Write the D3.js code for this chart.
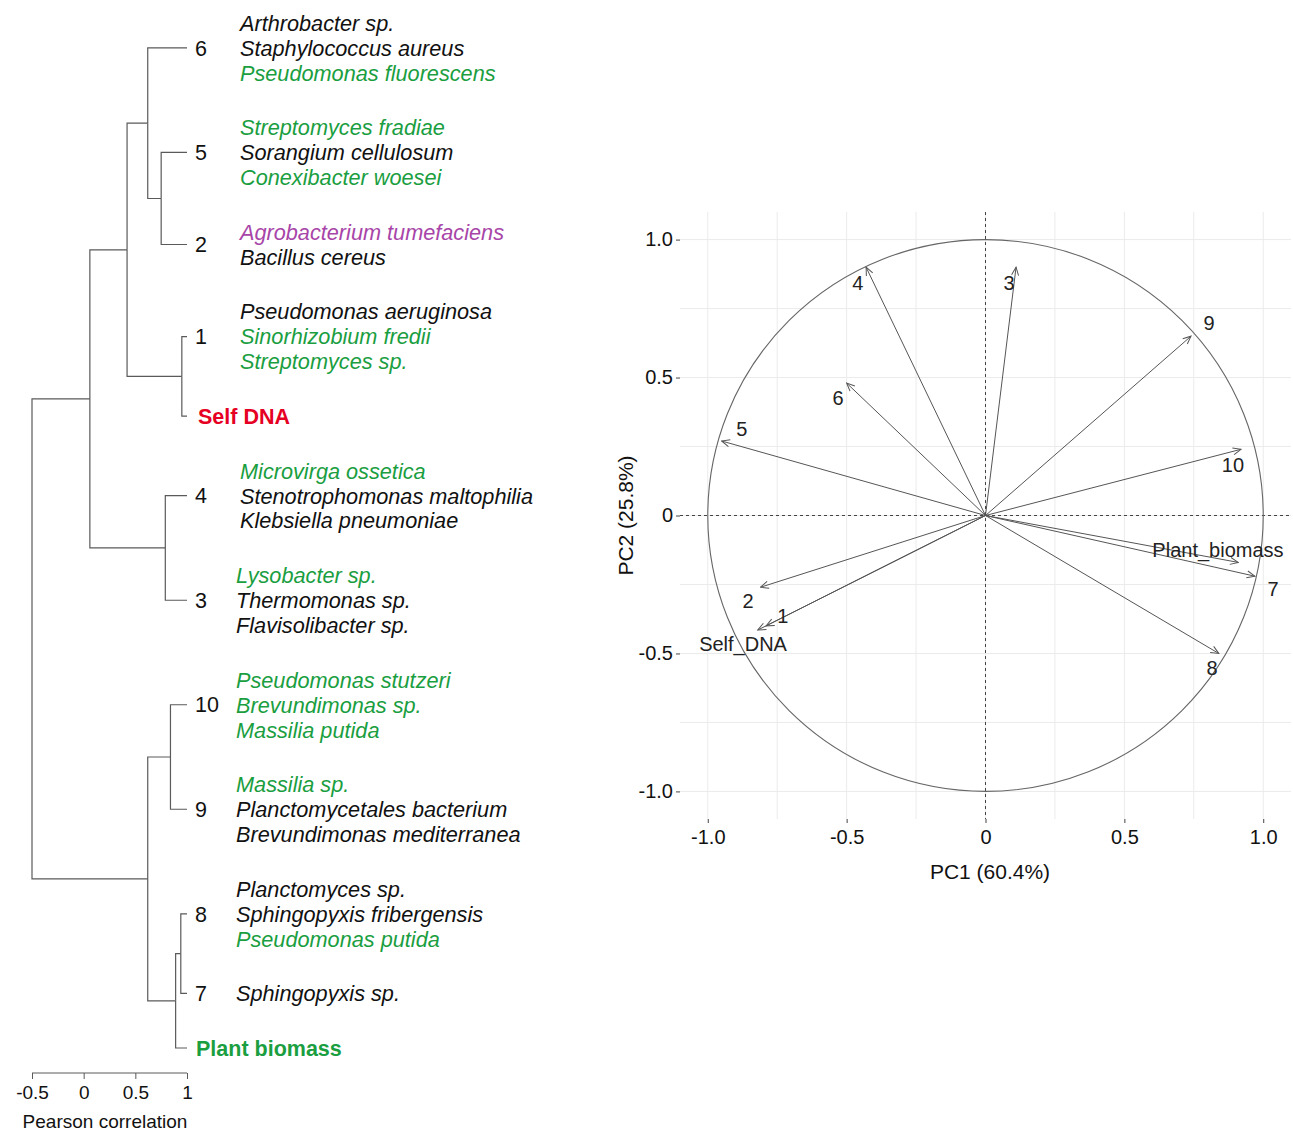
<!DOCTYPE html>
<html>
<head>
<meta charset="utf-8">
<script src="https://cdn.jsdelivr.net/npm/d3@7"></script>
<style>
  body { margin: 0; background: #fff; }
  text { font-family: Arial, "Liberation Sans", sans-serif; }
</style>
</head>
<body>
<div id="chart"></div>
<script>
// ---------- Data ----------

// Dendrogram leaves, top to bottom
var leafNames = ["6", "5", "2", "1", "Self DNA", "4", "3", "10", "9", "8", "7", "Plant biomass"];

// Species listed next to each leaf
var leafSpecies = [
    ["Arthrobacter sp.", "Staphylococcus aureus", "Pseudomonas fluorescens"],
    ["Streptomyces fradiae", "Sorangium cellulosum", "Conexibacter woesei"],
    ["Agrobacterium tumefaciens", "Bacillus cereus"],
    ["Pseudomonas aeruginosa", "Sinorhizobium fredii", "Streptomyces sp."],
    [],
    ["Microvirga ossetica", "Stenotrophomonas maltophilia", "Klebsiella pneumoniae"],
    ["Lysobacter sp.", "Thermomonas sp.", "Flavisolibacter sp."],
    ["Pseudomonas stutzeri", "Brevundimonas sp.", "Massilia putida"],
    ["Massilia sp.", "Planctomycetales bacterium", "Brevundimonas mediterranea"],
    ["Planctomyces sp.", "Sphingopyxis fribergensis", "Pseudomonas putida"],
    ["Sphingopyxis sp."],
    []
];

// Group of each species (k = other, g = green, p = purple)
var leafSpeciesGroup = [
    ["k", "k", "g"],
    ["g", "k", "g"],
    ["p", "k"],
    ["k", "g", "g"],
    [],
    ["g", "k", "k"],
    ["g", "k", "k"],
    ["g", "g", "g"],
    ["g", "k", "k"],
    ["k", "k", "g"],
    ["k"],
    []
];

// Merge table (child A, child B, Pearson correlation); rows are named m0, m1, ...
var merges = [
    ["5", "2", 0.75],
    ["6", "m0", 0.62],
    ["1", "Self DNA", 0.95],
    ["m1", "m2", 0.42],
    ["4", "3", 0.79],
    ["m3", "m4", 0.06],
    ["10", "9", 0.84],
    ["8", "7", 0.94],
    ["m7", "Plant biomass", 0.89],
    ["m6", "m8", 0.62],
    ["m5", "m9", -0.5]
];

var denTicks = [-0.5, 0, 0.5, 1];

// PCA variable correlations
var pcVars = ["1", "2", "3", "4", "5", "6", "7", "8", "9", "10", "Self_DNA", "Plant_biomass"];
var pc1 = [-0.79, -0.81, 0.11, -0.43, -0.95, -0.50, 0.97, 0.84, 0.74, 0.92, -0.82, 0.91];
var pc2 = [-0.40, -0.26, 0.90, 0.90, 0.27, 0.48, -0.22, -0.50, 0.65, 0.24, -0.415, -0.17];
// Repelled label locations (same units)
var pcLabelX = [-0.73, -0.855, 0.085, -0.46, -0.877, -0.531, 1.035, 0.816, 0.805, 0.891, -0.873, 0.837];
var pcLabelY = [-0.364, -0.31, 0.843, 0.843, 0.314, 0.426, -0.266, -0.553, 0.698, 0.183, -0.466, -0.125];

var pcTicks = [-1, -0.5, 0, 0.5, 1];
var pcGrid = [-1, -0.75, -0.5, -0.25, 0, 0.25, 0.5, 0.75, 1];

// ---------- Setup ----------
var width = 1293, height = 1131;

var svg = d3.select("#chart")
            .append("svg")
            .attr("width", width)
            .attr("height", height)
            .style("display", "block");

svg.append("rect").attr("width", width).attr("height", height).attr("fill", "#fff");

var groupColor = {k: "#111111", g: "#1a9e3f", p: "#a845a8"};
var lineColor = "#5a5a5a";

// plain hyphen for negative numbers, as in the original figure
var hyphen = function(s) { return s.replace("\u2212", "-"); };

// ---------- Dendrogram ----------
var x_den = d3.scaleLinear().domain([-0.5, 1]).range([32, 187]);

// vertical slots: one per text line, with an extra gap between leaves
var gapSlots = 1.19;
var leafStart = [];
var slot = 0;
leafNames.forEach(function(name, i) {
    leafStart.push(slot);
    slot += Math.max(1, leafSpecies[i].length) + gapSlots;
});
var lastSlot = slot - 1 - gapSlots;
var y_slot = d3.scaleLinear().domain([0, lastSlot]).range([23, 1048]);

function leafY(i) {
    var n = Math.max(1, leafSpecies[i].length);
    return y_slot(leafStart[i] + (n - 1) / 2);
}

// build hierarchy from the merge table
var nodes = {};
leafNames.forEach(function(name, i) { nodes[name] = {name: name, index: i, height: 1}; });
merges.forEach(function(m, i) {
    nodes["m" + i] = {name: "m" + i, height: m[2], children: [nodes[m[0]], nodes[m[1]]]};
});
var root = d3.hierarchy(nodes["m" + (merges.length - 1)]);

// positions: leaves from their label block, parents at the mid of their children
root.eachAfter(function(d) {
    d.px = x_den(d.data.height);
    if (d.children) {
        d.py = d3.mean(d.children, function(c) { return c.py; });
    } else {
        d.py = leafY(d.data.index);
    }
});

var den = svg.append("g")
             .attr("fill", "none")
             .attr("stroke", lineColor)
             .attr("stroke-width", 1.2);

den.selectAll("path")
   .data(root.descendants().filter(function(d) { return d.parent; }))
   .enter().append("path")
   .attr("d", function(d) {
       return "M" + d.px + "," + d.py + "H" + d.parent.px + "V" + d.parent.py;
   });

// leaf labels
var leafLabels = svg.append("g");
root.leaves().forEach(function(d) {
    var name = d.data.name;
    var t = leafLabels.append("text")
                      .attr("x", 195)
                      .attr("y", d.py)
                      .attr("dy", "0.36em")
                      .style("font-size", "21.5px")
                      .text(name);
    if (name == "Self DNA") {
        t.attr("x", 198).style("font-weight", "bold").attr("fill", "#e60023");
    } else if (name == "Plant biomass") {
        t.attr("x", 196).style("font-weight", "bold").attr("fill", "#1a9e3f");
    } else {
        t.attr("fill", "#111");
    }
});

// species names
leafNames.forEach(function(name, i) {
    leafSpecies[i].forEach(function(sp, k) {
        leafLabels.append("text")
                  .attr("x", i < 6 ? 240 : 236)
                  .attr("y", y_slot(leafStart[i] + k))
                  .attr("dy", "0.36em")
                  .style("font-size", "21.7px")
                  .style("font-style", "italic")
                  .attr("fill", groupColor[leafSpeciesGroup[i][k]])
                  .text(sp);
    });
});

// correlation axis
var denAxis = d3.axisBottom(x_den)
                .tickValues(denTicks)
                .tickSize(6)
                .tickFormat(function(d) { return hyphen(d3.format("")(d)); });

var denAxisG = svg.append("g")
                  .attr("transform", "translate(0,1073)")
                  .call(denAxis);
denAxisG.select(".domain").attr("stroke", lineColor).attr("d", "M" + x_den(-0.5) + ",0H" + x_den(1));
denAxisG.selectAll(".tick line").attr("stroke", lineColor);
denAxisG.selectAll(".tick text")
        .attr("y", 13)
        .style("font-size", "19px")
        .style("font-family", "Arial, 'Liberation Sans', sans-serif")
        .attr("fill", "#111");

svg.append("text")
   .attr("x", 105)
   .attr("y", 1121)
   .attr("dy", "0.36em")
   .attr("text-anchor", "middle")
   .style("font-size", "19px")
   .attr("fill", "#111")
   .text("Pearson correlation");

// ---------- PCA correlation circle ----------
var x_pc = d3.scaleLinear().domain([-1.1, 1.1]).range([680, 1291]);
var y_pc = d3.scaleLinear().domain([-1.1, 1.1]).range([819, 212]);

var pca = svg.append("g");

// grid
pca.append("g")
   .attr("stroke", "#ebebeb")
   .attr("stroke-width", 1)
   .selectAll("line.v")
   .data(pcGrid)
   .enter().append("line")
   .attr("x1", function(d) { return x_pc(d); })
   .attr("x2", function(d) { return x_pc(d); })
   .attr("y1", y_pc(1.1))
   .attr("y2", y_pc(-1.1));

pca.append("g")
   .attr("stroke", "#ebebeb")
   .attr("stroke-width", 1)
   .selectAll("line.h")
   .data(pcGrid)
   .enter().append("line")
   .attr("y1", function(d) { return y_pc(d); })
   .attr("y2", function(d) { return y_pc(d); })
   .attr("x1", x_pc(-1.1))
   .attr("x2", x_pc(1.1));

// axes
var fmt = function(d) { return d === 0 ? "0" : hyphen(d3.format(".1f")(d)); };
var pcBottom = d3.axisBottom(x_pc).tickValues(pcTicks).tickSize(4).tickFormat(fmt);
var pcLeft = d3.axisLeft(y_pc).tickValues(pcTicks).tickSize(4).tickFormat(fmt);

var gx = pca.append("g").attr("transform", "translate(0," + y_pc(-1.1) + ")").call(pcBottom);
var gy = pca.append("g").attr("transform", "translate(" + x_pc(-1.1) + ",0)").call(pcLeft);
[gx, gy].forEach(function(g) {
    g.select(".domain").remove();
    g.selectAll(".tick line").attr("stroke", "#444");
    g.selectAll(".tick text")
     .style("font-size", "20px")
     .style("font-family", "Arial, 'Liberation Sans', sans-serif")
     .attr("fill", "#111");
});
gx.selectAll(".tick text").attr("y", 11);
gy.selectAll(".tick text").attr("x", -7);

pca.append("text")
   .attr("x", 990)
   .attr("y", 871)
   .attr("dy", "0.36em")
   .attr("text-anchor", "middle")
   .style("font-size", "21px")
   .attr("fill", "#111")
   .text("PC1 (60.4%)");

pca.append("text")
   .attr("transform", "translate(625," + y_pc(0) + ") rotate(-90)")
   .attr("dy", "0.36em")
   .attr("text-anchor", "middle")
   .style("font-size", "21px")
   .attr("fill", "#111")
   .text("PC2 (25.8%)");

// dashed reference lines
pca.append("line")
   .attr("x1", x_pc(-1.1)).attr("x2", x_pc(1.1))
   .attr("y1", y_pc(0)).attr("y2", y_pc(0))
   .attr("stroke", "#444").attr("stroke-dasharray", "3,3");
pca.append("line")
   .attr("x1", x_pc(0)).attr("x2", x_pc(0))
   .attr("y1", y_pc(1.1)).attr("y2", y_pc(-1.1))
   .attr("stroke", "#444").attr("stroke-dasharray", "3,3");

// unit circle
pca.append("ellipse")
   .attr("cx", x_pc(0))
   .attr("cy", y_pc(0))
   .attr("rx", x_pc(1) - x_pc(0))
   .attr("ry", y_pc(0) - y_pc(1))
   .attr("fill", "none")
   .attr("stroke", "#666")
   .attr("stroke-width", 1.1);

// arrow marker
svg.append("defs").append("marker")
   .attr("id", "arrow")
   .attr("viewBox", "-10 -5 11 10")
   .attr("refX", 0)
   .attr("refY", 0)
   .attr("markerUnits", "userSpaceOnUse")
   .attr("markerWidth", 11)
   .attr("markerHeight", 10)
   .attr("orient", "auto")
   .append("path")
   .attr("d", "M-8,-3.5L0,0L-8,3.5")
   .attr("fill", "none")
   .attr("stroke", "#555")
   .attr("stroke-width", 1);

var idx = d3.range(pcVars.length);

pca.append("g")
   .selectAll("line")
   .data(idx)
   .enter().append("line")
   .attr("x1", x_pc(0))
   .attr("y1", y_pc(0))
   .attr("x2", function(i) { return x_pc(pc1[i]); })
   .attr("y2", function(i) { return y_pc(pc2[i]); })
   .attr("stroke", "#555")
   .attr("stroke-width", 1)
   .attr("marker-end", "url(#arrow)");

pca.append("g")
   .selectAll("text")
   .data(idx)
   .enter().append("text")
   .attr("x", function(i) { return x_pc(pcLabelX[i]); })
   .attr("y", function(i) { return y_pc(pcLabelY[i]); })
   .attr("dy", "0.36em")
   .attr("text-anchor", "middle")
   .style("font-size", "20px")
   .attr("fill", "#222")
   .text(function(i) { return pcVars[i]; });
</script>
</body>
</html>
